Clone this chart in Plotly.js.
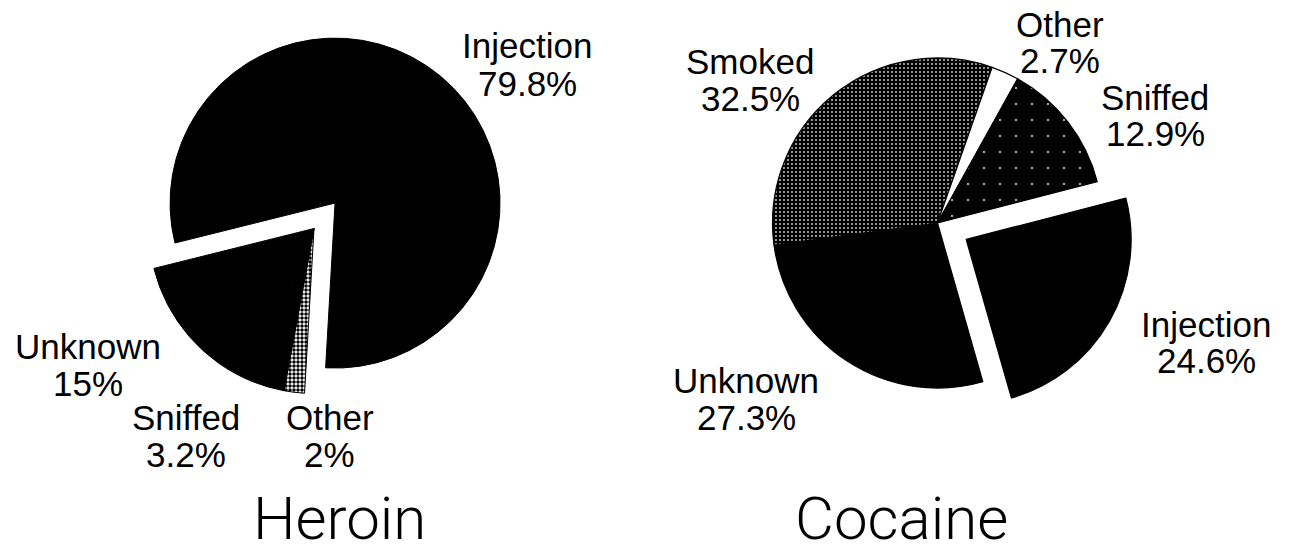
<!DOCTYPE html>
<html>
<head>
<meta charset="utf-8">
<script src="https://cdn.plot.ly/plotly-3.0.1.min.js"></script>
<style>
  html, body { margin: 0; padding: 0; background: #ffffff; }
  #chart { width: 1289px; height: 556px; }
</style>
</head>
<body>
<div id="chart"></div>
<script>
// ---- data ----
const heroinLabels = ["Injection", "Other", "Sniffed", "Unknown"];
const heroinValues = [79.8, 2, 3.2, 15];
const cocaineLabels = ["Injection", "Unknown", "Smoked", "Other", "Sniffed"];
const cocaineValues = [24.6, 27.3, 32.5, 2.7, 12.9];
const chartTitles = ["Heroin", "Cocaine"];

// ---- layout helpers (page pixels -> paper) ----
const W = 1289, H = 556;
const px = x => x / W;
const py = y => 1 - y / H;

function pieDomain(cx, cy, half) {
  return { x: [px(cx - half), px(cx + half)], y: [py(cy + half), py(cy - half)] };
}

const R = 165, PULL = 0.2, HALF = R * (1 + PULL);

const heroin = {
  type: "pie",
  labels: heroinLabels,
  values: heroinValues,
  sort: false,
  direction: "clockwise",
  rotation: 256,
  pull: heroinLabels.map(l => l === "Injection" ? PULL : 0),
  textinfo: "none",
  hoverinfo: "label+percent",
  showlegend: false,
  domain: pieDomain(314, 228.5, HALF),
  marker: {
    colors: ["#000000", "#555555", "#000000", "#000000"],
    line: { color: "#000000", width: 1 },
    pattern: {
      shape: ["", ".", "", ""],
      fgcolor: "#000000",
      bgcolor: ["#000000", "#ffffff", "#000000", "#000000"],
      size: 4,
      solidity: 0.6
    }
  }
};

const cocaine = {
  type: "pie",
  labels: cocaineLabels,
  values: cocaineValues,
  sort: false,
  direction: "clockwise",
  rotation: 75.5,
  pull: cocaineLabels.map(l => l === "Injection" ? PULL : 0),
  textinfo: "none",
  hoverinfo: "label+percent",
  showlegend: false,
  domain: pieDomain(937.5, 223, HALF),
  marker: {
    colors: ["#000000", "#000000", "#444444", "#ffffff", "#000000"],
    line: { color: "#000000", width: 1.2 },
    pattern: {
      shape: ["", "", "+", "", "."],
      fgcolor: ["#000000", "#000000", "#000000", "#000000", "#ffffff"],
      bgcolor: ["#000000", "#000000", "#ffffff", "#ffffff", "#000000"],
      size: [4, 4, 4, 4, 16],
      solidity: [0.5, 0.5, 0.85, 0.5, 0.01]
    }
  }
};

// label positions: [centerX, baseline of name line, baseline of percent line]
const heroinLabelPos = {
  "Injection": [527, 58, 96],
  "Unknown":   [88, 359, 396],
  "Sniffed":   [186, 430, 467],
  "Other":     [330, 430, 467]
};
const cocaineLabelPos = {
  "Other":     [1060, 37, 73],
  "Smoked":    [750, 74, 111],
  "Sniffed":   [1155, 110, 146],
  "Injection": [1206, 337, 373],
  "Unknown":   [746, 393, 430]
};
const titleCenters = [339, 901];

const LABEL_FS = 35;
const labelFont = { family: "Liberation Sans, Arial, sans-serif", size: LABEL_FS, color: "#000000" };
const titleFont = { family: "Roboto, Lato, sans-serif", size: 60, color: "#000000", weight: 300 };

const annotations = [];
function addLabels(labels, values, posMap) {
  labels.forEach((lab, i) => {
    const p = posMap[lab];
    if (!p) return;
    const mid = LABEL_FS * 0.36;
    annotations.push({ text: lab, x: px(p[0]), y: py(p[1] - mid), xref: "paper", yref: "paper",
      xanchor: "center", yanchor: "middle", showarrow: false, font: labelFont });
    annotations.push({ text: String(values[i]) + "%", x: px(p[0]), y: py(p[2] - mid), xref: "paper", yref: "paper",
      xanchor: "center", yanchor: "middle", showarrow: false, font: labelFont });
  });
}
addLabels(heroinLabels, heroinValues, heroinLabelPos);
addLabels(cocaineLabels, cocaineValues, cocaineLabelPos);
chartTitles.forEach((t, i) => {
  annotations.push({ text: t, x: px(titleCenters[i]), y: 0, xref: "paper", yref: "paper",
    xanchor: "center", yanchor: "bottom", showarrow: false, font: titleFont });
});

const layout = {
  width: W, height: H,
  margin: { l: 0, r: 0, t: 0, b: 0, pad: 0 },
  paper_bgcolor: "#ffffff",
  plot_bgcolor: "#ffffff",
  showlegend: false,
  annotations: annotations
};

Plotly.newPlot("chart", [heroin, cocaine], layout, { displayModeBar: false, staticPlot: true });
</script>
</body>
</html>
